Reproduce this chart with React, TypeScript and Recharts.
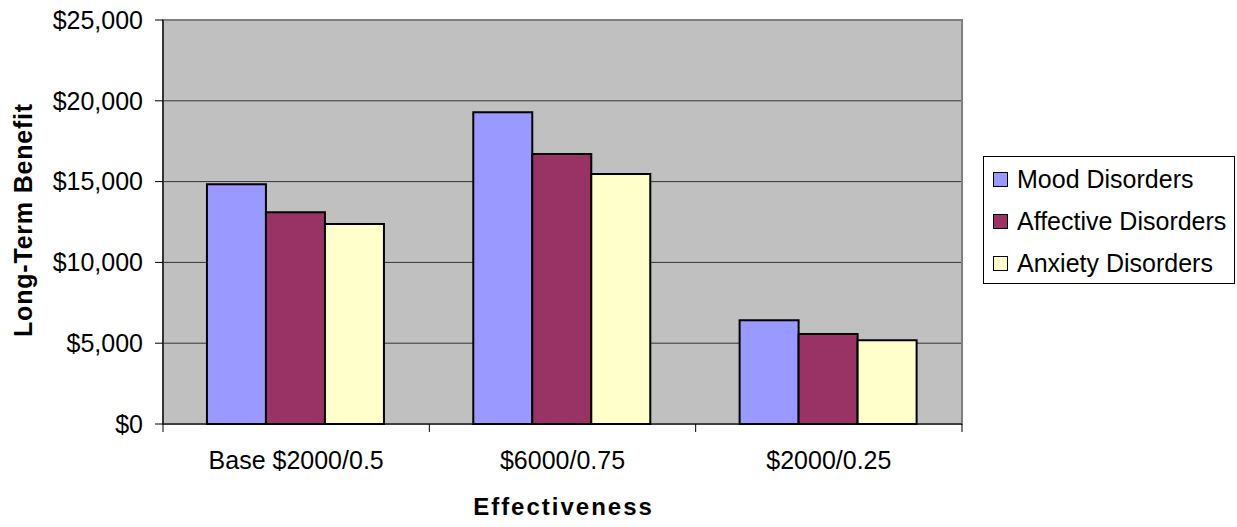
import { BarChart, Bar, XAxis, YAxis, CartesianGrid, Legend, ReferenceArea } from 'recharts';

const categories = ['Base $2000/0.5', '$6000/0.75', '$2000/0.25'];
const moodValues = [14830, 19290, 6420];
const affectiveValues = [13100, 16710, 5570];
const anxietyValues = [12380, 15470, 5180];
const yTicks = [0, 5000, 10000, 15000, 20000, 25000];

const series = [
  { key: 'mood', name: 'Mood Disorders', color: '#9999FF' },
  { key: 'affective', name: 'Affective Disorders', color: '#993366' },
  { key: 'anxiety', name: 'Anxiety Disorders', color: '#FFFFCC' },
];

const data = categories.map((c, i) => ({
  name: c,
  mood: moodValues[i],
  affective: affectiveValues[i],
  anxiety: anxietyValues[i],
}));

const font = 'Arial, "Liberation Sans", sans-serif';

const fmt = (v: number) => '$' + v.toLocaleString('en-US');

function XTick(props: any) {
  const { x, y, payload, index } = props;
  const half = payload && payload.offset ? payload.offset : 133;
  return (
    <g>
      <line x1={x - half} y1={y} x2={x - half} y2={y + 8} stroke="#000" />
      {index === categories.length - 1 && (
        <line x1={x + half} y1={y} x2={x + half} y2={y + 8} stroke="#000" />
      )}
      <text x={x} y={y + 45} textAnchor="middle" fontSize={25} fontFamily={font} fill="#000">
        {payload.value}
      </text>
    </g>
  );
}

function LegendBox() {
  return (
    <div style={{ width: 273, paddingLeft: 21, boxSizing: 'border-box' }}>
      <div
        style={{
          width: 252,
          height: 128,
          border: '1px solid #000',
          boxSizing: 'border-box',
          paddingTop: 1,
          background: '#fff',
        }}
      >
        {series.map((s) => (
          <div key={s.key} style={{ height: 42, display: 'flex', alignItems: 'center' }}>
            <span
              style={{
                width: 13,
                height: 13,
                marginLeft: 9,
                marginRight: 9,
                border: '1px solid #000',
                background: s.color,
                display: 'inline-block',
              }}
            />
            <span style={{ fontFamily: font, fontSize: 25, color: '#000', whiteSpace: 'nowrap' }}>
              {s.name}
            </span>
          </div>
        ))}
      </div>
    </div>
  );
}

export default function App() {
  return (
    <div style={{ position: 'absolute', left: 0, top: 0, background: '#fff' }}>
      <BarChart
        width={1237}
        height={527}
        data={data}
        margin={{ top: 20, right: 2, left: 0, bottom: 0 }}
        barCategoryGap="16.5%"
        barGap={0}
      >
        <CartesianGrid vertical={false} fill="#C0C0C0" stroke="#333" />
        <ReferenceArea y1={0} y2={25000} fill="none" stroke="#808080" strokeWidth={2} ifOverflow="visible" />
        <XAxis
          dataKey="name"
          height={103}
          tickLine={false}
          tickSize={0}
          tickMargin={0}
          axisLine={{ stroke: '#000', strokeWidth: 1 }}
          tick={<XTick />}
          interval={0}
          label={{
            content: (p: any) => {
              const vb = p.viewBox;
              return (
                <text
                  x={vb.x + vb.width / 2 + 1}
                  y={515}
                  textAnchor="middle"
                  fontSize={24}
                  fontWeight="bold"
                  letterSpacing={2}
                  fontFamily={font}
                  fill="#000"
                >
                  Effectiveness
                </text>
              );
            },
          }}
        />
        <YAxis
          width={163}
          domain={[0, 25000]}
          ticks={yTicks}
          tickFormatter={fmt}
          tickSize={8}
          tickMargin={12}
          tickLine={{ stroke: '#000' }}
          axisLine={{ stroke: '#333', strokeWidth: 2 }}
          tick={{ fill: '#000', fontSize: 25, fontFamily: font }}
          label={{
            content: (p: any) => {
              const vb = p.viewBox;
              const cy = vb.y + vb.height / 2 - 2;
              return (
                <text
                  x={32}
                  y={cy}
                  textAnchor="middle"
                  fontSize={25}
                  fontWeight="bold"
                  letterSpacing={0.8}
                  fontFamily={font}
                  fill="#000"
                  transform={`rotate(-90, 32, ${cy})`}
                >
                  Long-Term Benefit
                </text>
              );
            },
          }}
        />
        <Legend
          layout="vertical"
          align="right"
          verticalAlign="middle"
          content={<LegendBox />}
          wrapperStyle={{ top: 156, right: 2 }}
        />
        {series.map((s) => (
          <Bar
            key={s.key}
            dataKey={s.key}
            name={s.name}
            fill={s.color}
            stroke="#000"
            strokeWidth={2}
            isAnimationActive={false}
          />
        ))}
      </BarChart>
    </div>
  );
}
